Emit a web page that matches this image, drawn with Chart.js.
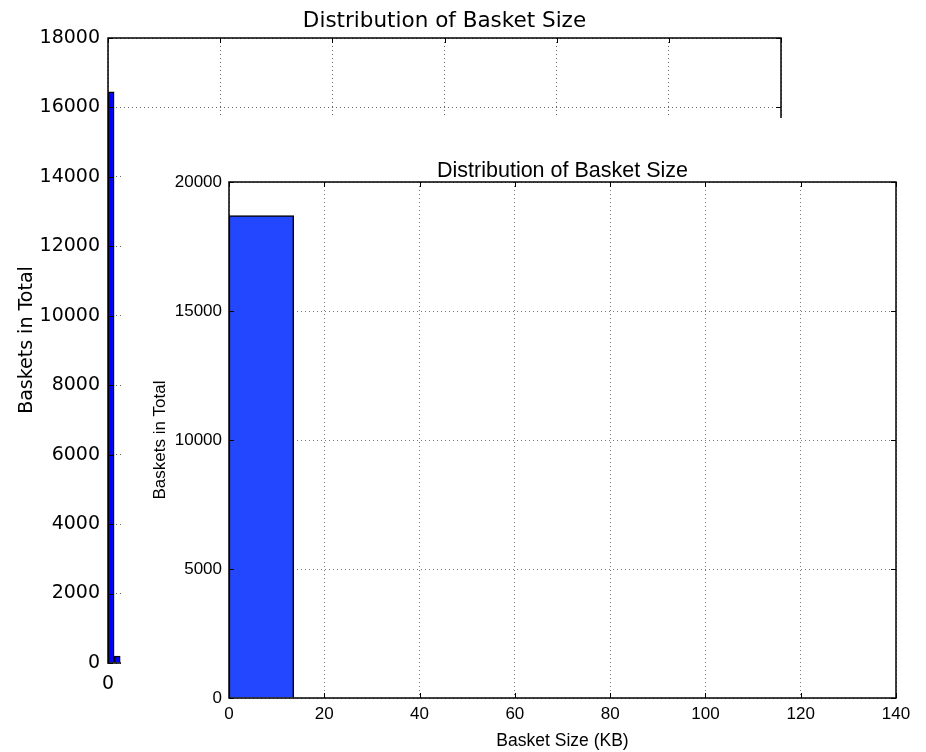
<!DOCTYPE html>
<html><head><meta charset="utf-8">
<script src="https://cdn.jsdelivr.net/npm/chart.js@4.4.1/dist/chart.umd.min.js"></script>
<style>
html,body{margin:0;padding:0;background:#fff;}
#wrap{position:relative;width:926px;height:752px;overflow:hidden;background:#fff;}
#bg{position:absolute;left:0;top:0;}
#fg{position:absolute;left:121px;top:118px;background:#fff;}
</style></head><body>
<div id="wrap"><canvas id="bg" width="926" height="752"></canvas><canvas id="fg" width="805" height="634"></canvas></div>
<script>
// ---- data ----
const chartTitle = 'Distribution of Basket Size';
const yTitle = 'Baskets in Total';
const xTitle = 'Basket Size (KB)';
const binCenters = [6.8, 20.4, 34.0, 47.6, 61.2, 74.8, 88.4, 102.0, 115.6, 129.2];
const bgCounts = [16450, 200, 0, 0, 0, 0, 0, 0, 0, 0];
const fgCounts = [18700, 0, 0, 0, 0, 0, 0, 0, 0, 0];
const bgYTicks = [0, 2000, 4000, 6000, 8000, 10000, 12000, 14000, 16000, 18000];
const bgXTicks = [0, 250, 500, 750, 1000, 1250, 1500];
const fgYTicks = [0, 5000, 10000, 15000, 20000];
const fgXTicks = [0, 20, 40, 60, 80, 100, 120, 140];

Chart.defaults.devicePixelRatio = 1;
Chart.defaults.animation = false;
Chart.defaults.color = '#000';

function decoPlugin(cfg) {
  return {
    id: 'deco',
    afterDatasetsDraw(chart) {
      const ctx = chart.ctx, a = chart.chartArea;
      const xs = chart.scales.x, ys = chart.scales.y;
      ctx.save();
      // inward tick marks
      ctx.strokeStyle = '#000'; ctx.lineWidth = 1;
      ctx.beginPath();
      cfg.xTicks.forEach(v => { const p = Math.round(xs.getPixelForValue(v)) + 0.5;
        ctx.moveTo(p, a.bottom); ctx.lineTo(p, a.bottom - 5);
        ctx.moveTo(p, a.top); ctx.lineTo(p, a.top + 5); });
      cfg.yTicks.forEach(v => { const p = Math.round(ys.getPixelForValue(v)) + 0.5;
        ctx.moveTo(a.left, p); ctx.lineTo(a.left + 5, p);
        ctx.moveTo(a.right, p); ctx.lineTo(a.right - 5, p); });
      ctx.stroke();
      // frame
      ctx.lineWidth = cfg.frameWidth;
      ctx.strokeStyle = '#000';
      ctx.strokeRect(a.left, a.top, a.right - a.left, a.bottom - a.top);
      // titles
      ctx.fillStyle = '#000';
      ctx.textAlign = 'center'; ctx.textBaseline = 'middle';
      ctx.font = cfg.titleFont;
      ctx.fillText(chartTitle, (a.left + a.right) / 2, cfg.titleY);
      if (cfg.xTitleY) {
        ctx.font = cfg.xTitleFont;
        ctx.fillText(xTitle, (a.left + a.right) / 2, cfg.xTitleY);
      }
      ctx.font = cfg.yTitleFont;
      ctx.translate(cfg.yTitleX, cfg.yTitleCY || (a.top + a.bottom) / 2);
      ctx.rotate(-Math.PI / 2);
      ctx.fillText(yTitle, 0, 0);
      ctx.restore();
    }
  };
}

function makeChart(el, o) {
  return new Chart(el, {
    type: 'bar',
    data: { datasets: [{
      data: binCenters.map((c, i) => ({ x: c, y: o.counts[i] })),
      backgroundColor: o.barColor, borderColor: '#000', borderWidth: o.barBorder,
      barPercentage: 1, categoryPercentage: 1
    }] },
    options: {
      responsive: false, animation: false,
      layout: { padding: o.padding },
      plugins: { legend: { display: false }, tooltip: { enabled: false }, title: { display: false } },
      scales: {
        x: {
          type: 'linear', min: o.xTicks[0], max: o.xTicks[o.xTicks.length - 1], offset: false,
          afterBuildTicks: s => { s.ticks = o.xTicks.map(v => ({ value: v })); },
          afterFit: s => { s.height = o.xH; },
          grid: { color: o.gridColor, lineWidth: 1, drawTicks: false, offset: false },
          border: { display: false, dash: [1, 3] },
          ticks: { font: o.tickFont, padding: o.xPad, color: '#000', maxRotation: 0, autoSkip: false,
                   callback: v => String(v) }
        },
        y: {
          min: o.yTicks[0], max: o.yTicks[o.yTicks.length - 1],
          afterBuildTicks: s => { s.ticks = o.yTicks.map(v => ({ value: v })); },
          afterFit: s => { s.width = o.yW; },
          grid: { color: o.gridColor, lineWidth: 1, drawTicks: false, offset: false },
          border: { display: false, dash: [1, 3] },
          ticks: { font: o.tickFont, padding: o.yPad, color: '#000', autoSkip: false,
                   callback: v => String(v) }
        }
      }
    },
    plugins: [decoPlugin(o.deco)]
  });
}

// background (older) chart: plot area 108..781 x 38..663
makeChart(document.getElementById('bg'), {
  counts: bgCounts, barColor: '#0000ff', barBorder: 1.5,
  xTicks: bgXTicks, yTicks: bgYTicks,
  padding: { left: 8, top: 38, right: 145, bottom: 49 },
  yW: 100, xH: 40, xPad: 10, yPad: 8,
  gridColor: '#666',
  tickFont: { family: "'DejaVu Sans', sans-serif", size: 19 },
  deco: { xTicks: bgXTicks, yTicks: bgYTicks, frameWidth: 1.5,
          titleFont: "21.5px 'DejaVu Sans', sans-serif", titleY: 21,
          yTitleFont: "19px 'DejaVu Sans', sans-serif", yTitleX: 27, yTitleCY: 340 }
});

// foreground (newer) chart: plot area 229..896 x 182..698 in page coords
makeChart(document.getElementById('fg'), {
  counts: fgCounts, barColor: '#2346ff', barBorder: 1.5,
  xTicks: fgXTicks, yTicks: fgYTicks,
  padding: { left: 28, top: 64, right: 30, bottom: 14 },
  yW: 80, xH: 40, xPad: 6, yPad: 7,
  gridColor: '#777',
  tickFont: { family: "'Liberation Sans', Arial, sans-serif", size: 17 },
  deco: { xTicks: fgXTicks, yTicks: fgYTicks, frameWidth: 1.5,
          titleFont: "21.5px 'Liberation Sans', Arial, sans-serif", titleY: 53,
          xTitleFont: "17.5px 'Liberation Sans', Arial, sans-serif", xTitleY: 623,
          yTitleFont: "17px 'Liberation Sans', Arial, sans-serif", yTitleX: 39 }
});
</script>
</body></html>
